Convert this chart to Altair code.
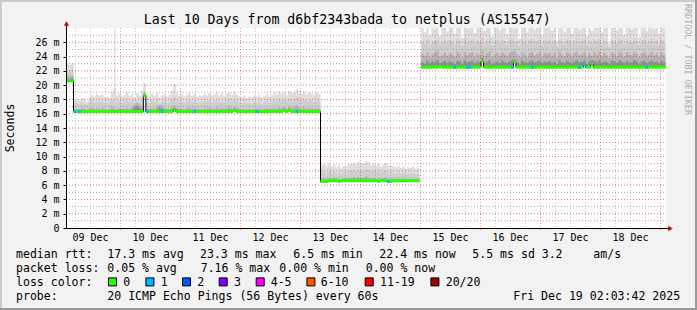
import altair as alt
import pandas as pd

MONO = "DejaVu Sans Mono"
PAD_L, PAD_T = 66, 28
W, H = 600, 200

# ------------------------------------------------------------------ data
# x = hours after 2025-12-09 00:00 ; y = round trip time in milliseconds
X_DOMAIN = [2.2, 242.2]
Y_DOMAIN = [0, 28]
Y_TICKS = [0, 2, 4, 6, 8, 10, 12, 14, 16, 18, 20, 22, 24, 26]
DAY_LABELS = ["09 Dec", "10 Dec", "11 Dec", "12 Dec", "13 Dec",
              "14 Dec", "15 Dec", "16 Dec", "17 Dec", "18 Dec"]
DAY_NOON_HOURS = [12, 36, 60, 84, 108, 132, 156, 180, 204, 228]
GRID_MINOR_MS = [1, 3, 5, 7, 9, 11, 13, 15, 17, 19, 21, 23, 25, 27]
GRID_MAJOR_MS = [2, 4, 6, 8, 10, 12, 14, 16, 18, 20, 22, 24, 26]
GRID_DAY_HOURS = [24, 48, 72, 96, 120, 144, 168, 192, 216, 240]
GRID_6H_HOURS = [6, 12, 18, 30, 36, 42, 54, 60, 66, 78, 84, 90, 102, 108, 114,
                 126, 132, 138, 150, 156, 162, 174, 180, 186, 198, 204, 210,
                 222, 228, 234]

# segment A : before the first route change
SPAN_A = (2.0, 5.2)
MED_A = [20.6, 20.6, 20.6]
S1_A = [23.0, 22.8, 23.1]
S2_A = [22.1, 21.9, 22.2]
S3_A = [21.3, 21.2, 21.3]
S4_A = [20.9, 20.8, 20.9]

# segment B
SPAN_B = (5.2, 104.0)
MED_B = [16.3, 16.3, 16.3, 16.3, 16.3, 16.3, 16.3, 16.3, 16.3, 16.3,
         16.3, 16.3, 16.3, 16.3, 16.3, 16.3, 16.3, 16.3, 16.3, 16.3,
         16.3, 16.3, 16.3, 16.3, 16.3, 16.3, 16.3, 16.3, 18.5, 16.3,
         16.3, 16.3, 16.3, 16.3, 16.3, 16.3, 16.3, 16.3, 16.3, 16.3,
         16.6, 16.3, 16.3, 16.3, 16.3, 16.3, 16.3, 16.3, 16.3, 16.3,
         16.3, 16.3, 16.3, 16.3, 16.3, 16.3, 16.3, 16.3, 16.3, 16.3,
         16.3, 16.3, 16.3, 16.3, 16.5, 16.3, 16.3, 16.3, 16.3, 16.3,
         16.3, 16.3, 16.3, 16.3, 16.3, 16.3, 16.3, 16.3, 16.3, 16.3,
         16.3, 16.3, 16.3, 16.3, 16.5, 16.3, 16.5, 16.3, 16.3, 16.3,
         16.3, 16.3, 16.3, 16.3, 16.3, 16.3, 16.3, 16.3, 16.3]
S1_B = [17.8, 18.1, 17.9, 18.2, 18.0, 17.7, 18.3, 18.6, 18.4, 18.8,
        18.5, 18.7, 18.3, 18.4, 18.2, 19.1, 19.6, 18.6, 18.9, 18.4,
        18.7, 19.0, 18.5, 18.8, 18.3, 18.9, 18.6, 19.2, 20.3, 18.7,
        18.4, 18.8, 18.5, 18.9, 18.3, 18.6, 18.8, 18.4, 18.7, 19.3,
        20.2, 18.9, 18.5, 18.8, 18.4, 18.7, 18.9, 18.5, 18.8, 18.4,
        18.6, 18.5, 18.8, 18.6, 18.9, 18.5, 18.7, 19.0, 18.6, 18.9,
        18.5, 18.8, 19.0, 18.6, 19.1, 18.7, 18.4, 18.3, 18.5, 18.2,
        18.4, 18.3, 18.6, 18.4, 18.7, 18.3, 18.5, 18.8, 18.4, 18.6,
        18.9, 18.7, 19.1, 18.8, 19.0, 18.6, 19.2, 18.9, 19.0, 19.5,
        19.2, 18.8, 19.1, 18.7, 19.0, 18.9, 18.6, 19.0, 18.8]
S2_B = [17.3, 17.5, 17.4, 17.6, 17.4, 17.3, 17.6, 17.8, 17.5, 17.7,
        17.6, 17.8, 17.5, 17.4, 17.6, 17.9, 18.2, 17.7, 17.8, 17.5,
        17.7, 17.9, 17.6, 17.8, 17.5, 17.9, 17.7, 18.0, 19.2, 17.6,
        17.5, 17.8, 17.6, 17.9, 17.4, 17.7, 17.8, 17.5, 17.7, 18.0,
        18.4, 17.8, 17.6, 17.7, 17.5, 17.8, 17.9, 17.6, 17.8, 17.5,
        17.6, 17.5, 17.8, 17.7, 17.9, 17.6, 17.7, 17.9, 17.6, 17.8,
        17.6, 17.8, 18.0, 17.7, 18.0, 17.8, 17.5, 17.4, 17.6, 17.4,
        17.5, 17.4, 17.7, 17.5, 17.8, 17.4, 17.6, 17.8, 17.5, 17.7,
        17.9, 17.8, 18.0, 17.8, 18.0, 17.7, 18.1, 17.9, 18.0, 18.3,
        18.1, 17.8, 18.0, 17.7, 17.9, 17.9, 17.6, 17.9, 17.8]
S3_B = [16.6, 16.7, 16.6, 16.8, 16.7, 16.6, 16.8, 16.8, 16.7, 16.8,
        16.7, 16.8, 16.7, 16.6, 16.7, 16.9, 17.1, 16.7, 16.8, 16.7,
        16.7, 16.8, 16.7, 16.9, 17.3, 17.5, 17.2, 16.9, 18.9, 16.7,
        16.7, 16.8, 16.7, 17.0, 17.2, 17.1, 16.8, 16.7, 16.7, 16.9,
        17.2, 16.8, 16.7, 16.7, 16.6, 16.8, 16.9, 16.7, 16.8, 16.7,
        16.7, 16.6, 16.8, 16.7, 16.9, 16.7, 16.7, 16.9, 16.7, 16.8,
        16.7, 16.8, 17.0, 16.7, 16.9, 16.8, 16.7, 16.6, 16.7, 16.6,
        16.7, 16.6, 16.7, 16.7, 16.8, 16.6, 16.7, 16.8, 16.7, 16.7,
        16.8, 16.7, 16.9, 16.8, 16.9, 16.7, 17.0, 16.8, 16.9, 17.1,
        16.9, 16.7, 16.9, 16.7, 16.8, 16.8, 16.7, 16.8, 16.7]
S4_B = [16.4, 16.5, 16.4, 16.5, 16.5, 16.4, 16.5, 16.5, 16.5, 16.5,
        16.5, 16.5, 16.5, 16.4, 16.5, 16.5, 16.6, 16.5, 16.5, 16.5,
        16.5, 16.5, 16.5, 16.6, 16.9, 17.1, 16.8, 16.6, 18.7, 16.5,
        16.5, 16.5, 16.5, 16.6, 16.8, 16.7, 16.5, 16.5, 16.5, 16.5,
        16.8, 16.5, 16.5, 16.5, 16.4, 16.5, 16.5, 16.5, 16.5, 16.5,
        16.5, 16.4, 16.5, 16.5, 16.5, 16.5, 16.5, 16.5, 16.5, 16.5,
        16.5, 16.5, 16.6, 16.5, 16.6, 16.5, 16.5, 16.4, 16.5, 16.4,
        16.5, 16.4, 16.5, 16.5, 16.5, 16.4, 16.5, 16.5, 16.5, 16.5,
        16.5, 16.5, 16.5, 16.5, 16.6, 16.5, 16.6, 16.5, 16.5, 16.6,
        16.5, 16.5, 16.5, 16.5, 16.5, 16.5, 16.5, 16.5, 16.5]

# segment C
SPAN_C = (104.0, 143.6)
MED_C = [6.5, 6.5, 6.5, 6.6, 6.6, 6.6, 6.6, 6.5, 6.6, 6.6,
         6.6, 6.6, 6.6, 6.6, 6.6, 6.6, 6.6, 6.6, 6.6, 6.6,
         6.6, 6.6, 6.6, 6.5, 6.6, 6.6, 6.6, 6.5, 6.5, 6.6,
         6.6, 6.6, 6.6, 6.6, 6.6, 6.6, 6.6, 6.6, 6.6, 6.6]
S1_C = [8.8, 9.0, 8.7, 9.1, 8.6, 8.9, 8.5, 8.8, 8.4, 8.7,
        8.6, 8.9, 9.0, 9.2, 8.9, 9.3, 9.1, 9.0, 9.4, 9.2,
        8.8, 9.1, 8.7, 9.0, 8.6, 8.9, 9.1, 8.7, 8.8, 8.6,
        8.5, 8.7, 8.4, 8.6, 8.3, 8.5, 8.4, 8.6, 8.3, 8.4]
S2_C = [7.8, 7.9, 7.7, 8.0, 7.7, 7.9, 7.6, 7.8, 7.6, 7.8,
        7.7, 7.9, 8.0, 8.1, 7.9, 8.2, 8.0, 7.9, 8.3, 8.1,
        7.8, 8.0, 7.7, 7.9, 7.7, 7.9, 8.0, 7.7, 7.8, 7.7,
        7.6, 7.8, 7.6, 7.7, 7.5, 7.6, 7.6, 7.7, 7.5, 7.6]
S3_C = [6.9, 7.0, 6.9, 7.0, 6.9, 7.0, 6.9, 6.9, 6.8, 7.0,
        6.9, 7.0, 7.0, 7.1, 7.0, 7.1, 7.0, 7.0, 7.2, 7.0,
        6.9, 7.0, 6.9, 7.0, 6.9, 7.0, 7.0, 6.9, 6.9, 6.9,
        6.9, 6.9, 6.8, 6.9, 6.8, 6.9, 6.9, 6.9, 6.8, 6.9]
S4_C = [6.6, 6.7, 6.6, 6.7, 6.7, 6.7, 6.7, 6.6, 6.7, 6.7,
        6.7, 6.7, 6.7, 6.8, 6.7, 6.8, 6.7, 6.7, 6.8, 6.7,
        6.7, 6.7, 6.7, 6.6, 6.7, 6.7, 6.7, 6.6, 6.6, 6.7,
        6.7, 6.7, 6.7, 6.7, 6.7, 6.7, 6.7, 6.7, 6.7, 6.7]

# segment D
SPAN_D = (144.3, 242.0)
MED_D = [22.5, 22.5, 22.5, 22.5, 22.5, 22.5, 22.5, 22.6, 22.5, 22.5,
         22.5, 22.5, 22.5, 22.5, 22.5, 22.5, 22.5, 22.5, 22.5, 22.5,
         22.5, 22.5, 22.5, 22.5, 23.3, 22.5, 22.5, 22.5, 22.5, 22.5,
         22.5, 22.5, 22.5, 22.5, 22.5, 22.5, 22.5, 23.2, 22.5, 22.5,
         22.5, 22.5, 22.5, 22.5, 22.5, 22.5, 22.5, 22.5, 22.5, 22.5,
         22.5, 22.5, 22.5, 22.5, 22.5, 22.5, 22.5, 22.5, 22.5, 22.5,
         22.5, 22.5, 22.5, 22.5, 22.5, 22.9, 22.5, 22.5, 22.9, 22.5,
         22.5, 22.5, 22.5, 22.5, 22.5, 22.5, 22.5, 22.5, 22.5, 22.5,
         22.5, 22.5, 22.5, 22.5, 22.5, 22.5, 22.5, 22.5, 22.5, 22.5,
         22.5, 22.5, 22.5, 22.5, 22.5, 22.5, 22.5, 22.5]
S1_D = [28.5, 27.4, 28.6, 27.0, 28.4, 27.8, 28.6, 26.9, 28.3, 28.5,
        27.5, 28.6, 28.2, 27.2, 28.5, 28.4, 26.6, 28.6, 27.9, 28.4,
        28.6, 27.3, 28.5, 28.0, 28.6, 27.6, 28.4, 28.6, 26.8, 28.3,
        28.5, 27.7, 28.6, 28.4, 27.1, 28.5, 28.6, 27.9, 28.4, 26.5,
        28.6, 28.3, 27.4, 28.5, 28.6, 27.8, 28.2, 28.6, 27.0, 28.5,
        28.4, 28.6, 27.6, 28.5, 26.2, 28.6, 28.3, 27.5, 28.6, 28.4,
        27.2, 28.5, 28.6, 27.8, 28.4, 28.6, 26.9, 28.5, 27.6, 28.6,
        28.3, 28.6, 27.4, 28.5, 28.2, 25.8, 28.6, 28.4, 27.7, 28.6,
        28.5, 27.1, 28.6, 28.3, 27.8, 28.6, 28.4, 26.7, 28.5, 28.6,
        27.5, 28.4, 28.6, 27.9, 28.5, 27.2, 28.6, 28.3]
S2_D = [26.2, 25.8, 26.4, 25.6, 26.1, 26.3, 26.5, 25.7, 26.0, 26.4,
        25.9, 26.3, 26.1, 25.7, 26.4, 26.2, 25.5, 26.5, 26.0, 26.3,
        26.4, 25.8, 26.2, 26.0, 26.6, 25.9, 26.3, 26.5, 25.6, 26.1,
        26.3, 25.9, 26.4, 26.2, 25.7, 26.3, 26.5, 26.0, 26.2, 25.5,
        26.4, 26.1, 25.8, 26.3, 26.5, 26.0, 26.2, 26.4, 25.7, 26.3,
        26.2, 26.4, 25.9, 26.3, 25.4, 26.5, 26.1, 25.8, 26.4, 26.2,
        25.8, 26.3, 26.5, 26.0, 26.2, 26.4, 25.6, 26.3, 25.9, 26.4,
        26.1, 26.5, 25.8, 26.3, 26.0, 25.3, 26.4, 26.2, 25.9, 26.5,
        26.3, 25.7, 26.4, 26.1, 26.0, 26.5, 26.2, 25.6, 26.3, 26.4,
        25.9, 26.2, 26.5, 26.0, 26.3, 25.7, 26.4, 26.1]
S3_D = [24.4, 24.1, 24.6, 23.9, 24.3, 24.5, 24.8, 24.0, 24.2, 24.6,
        24.1, 24.5, 24.3, 24.0, 24.7, 24.4, 23.9, 24.6, 24.2, 24.5,
        24.6, 24.0, 24.4, 24.2, 24.9, 24.1, 24.5, 24.7, 23.9, 24.3,
        24.5, 24.1, 24.6, 24.4, 24.0, 24.5, 24.7, 24.8, 24.4, 23.9,
        24.6, 24.3, 24.0, 24.5, 24.7, 24.2, 24.4, 24.6, 24.0, 24.5,
        24.4, 24.6, 24.1, 24.5, 23.8, 24.7, 24.3, 24.0, 24.6, 24.4,
        24.0, 24.5, 24.7, 24.2, 24.4, 24.6, 23.9, 24.5, 24.1, 24.6,
        24.3, 24.7, 24.0, 24.5, 24.2, 23.8, 24.6, 24.4, 24.1, 24.7,
        24.5, 24.0, 24.6, 24.3, 24.2, 24.7, 24.4, 23.9, 24.5, 24.6,
        24.1, 24.4, 24.7, 24.2, 24.5, 24.0, 24.6, 24.3]
S4_D = [23.2, 23.0, 23.4, 23.1, 23.3, 23.2, 23.5, 23.1, 23.2, 23.4,
        23.1, 23.3, 23.2, 23.0, 23.4, 23.3, 23.0, 23.5, 23.2, 23.3,
        23.4, 23.1, 23.3, 23.2, 23.8, 23.1, 23.3, 23.5, 23.0, 23.2,
        23.3, 23.1, 23.4, 23.2, 23.1, 23.3, 23.5, 23.6, 23.2, 23.0,
        23.4, 23.2, 23.1, 23.3, 23.5, 23.2, 23.3, 23.4, 23.1, 23.3,
        23.2, 23.4, 23.1, 23.3, 23.0, 23.5, 23.2, 23.1, 23.4, 23.2,
        23.1, 23.3, 23.5, 23.2, 23.3, 23.4, 23.0, 23.3, 23.5, 23.4,
        23.2, 23.5, 23.1, 23.3, 23.2, 23.0, 23.4, 23.3, 23.1, 23.5,
        23.3, 23.1, 23.4, 23.2, 23.2, 23.5, 23.3, 23.0, 23.3, 23.4,
        23.1, 23.3, 23.5, 23.2, 23.3, 23.1, 23.4, 23.2]

# loss events (hour, number of lost pings out of 20)
LOSS_EVENT_HOURS = [5.7, 7.6, 34.4, 40.3, 53.7, 78.4, 94.5, 131.1, 158.0,
                    162.4, 164.0, 180.8, 188.8, 208.0, 209.2, 234.7]
LOSS_EVENT_CLASS = ["1", "1", "1", "1", "1", "1", "1", "1", "1",
                    "1", "1", "1", "1", "1", "1", "1"]
# single-ping outliers
SPIKE_HOURS = [21.8]
SPIKE_TOPS = [28.5]

LOSS_LABELS = ["0", "1", "2", "3", "4-5", "6-10", "11-19", "20/20"]
LOSS_COLORS = ["#26ff00", "#00b8ff", "#0059ff", "#7e00ff", "#ff00ff",
               "#ff5500", "#ff0000", "#a00000"]

TITLE = "Last 10 Days from d6bf2343bada to netplus (AS15547)"
RTT_STATS = ["median rtt:", "17.3 ms avg", "23.3 ms max", "6.5 ms min",
             "22.4 ms now", "5.5 ms sd", "3.2", "am/s"]
LOSS_STATS = ["packet loss:", "0.05 % avg", "7.16 % max", "0.00 % min", "0.00 % now"]
PROBE_INFO = ["probe:", "20 ICMP Echo Pings (56 Bytes) every 60s",
              "Fri Dec 19 02:03:42 2025"]
LOSS_COLOR_HEAD = "loss color:"
Y_TITLE = "Seconds"
WATERMARK = "RRDTOOL / TOBI OETIKER"

# ------------------------------------------------------------------ layout (absolute px)
RTT_X = [16, 107.3, 200, 293.3, 379.3, 472.3, 541.7, 593.3]
LOSSSTAT_X = [16, 107.3, 200.7, 279.3, 365.7]
PROBE_X = [16, 107.3, 513.3]
SWATCH_X = [108.3, 145.7, 182.3, 219, 256, 306.7, 365, 430.7]
SWATCH_LABEL_X = [123.3, 160.7, 197.3, 234, 270.7, 320.7, 380, 445.7]
ROW_Y = [258.3, 272.1, 285.9, 299.7]

SEGMENTS = [
    ("A", SPAN_A, MED_A, S1_A, S2_A, S3_A, S4_A, "g1"),
    ("B", SPAN_B, MED_B, S1_B, S2_B, S3_B, S4_B, "g1"),
    ("C", SPAN_C, MED_C, S1_C, S2_C, S3_C, S4_C, "g1"),
    ("D", SPAN_D, MED_D, S1_D, S2_D, S3_D, S4_D, "g2"),
]

area_rows, line_rows = [], []
for name, (t0, t1), med, s1, s2, s3, s4, grp in SEGMENTS:
    n = len(med)
    step = (t1 - t0) / n
    for i in range(n):
        r = dict(seg=name, grp=grp, h=t0 + i * step, med=med[i],
                 s1=s1[i], s2=s2[i], s3=s3[i], s4=s4[i])
        area_rows.append(r)
        line_rows.append(r)
    last = dict(seg=name, grp=grp, h=t1, med=med[-1], s1=s1[-1],
                s2=s2[-1], s3=s3[-1], s4=s4[-1])
    area_rows.append(last)
    if name in ("C", "D"):
        line_rows.append(last)
area_df = pd.DataFrame(area_rows)
line_df = pd.DataFrame(line_rows)


def lookup(h):
    for name, (t0, t1), med, *_rest in SEGMENTS:
        if t0 <= h < t1:
            step = (t1 - t0) / len(med)
            i = int((h - t0) / step)
            return t0 + i * step, t0 + (i + 1) * step, med[i]
    return None


loss_rows = []
for h, c in zip(LOSS_EVENT_HOURS, LOSS_EVENT_CLASS):
    x0, x1, m = lookup(h)
    loss_rows.append(dict(x0=x0, x1=x1, med=m, cls=c))
loss_df = pd.DataFrame(loss_rows)

spike_rows = []
for h, top in zip(SPIKE_HOURS, SPIKE_TOPS):
    _, _, m = lookup(h)
    spike_rows.append(dict(h=h, top=top, base=m))
spike_df = pd.DataFrame(spike_rows)

# ------------------------------------------------------------------ chart
XS = alt.Scale(domain=X_DOMAIN, nice=False, zero=False)
YS = alt.Scale(domain=Y_DOMAIN, nice=False, zero=False)
ONE = pd.DataFrame({"k": [0]})

Y_AXIS = alt.Axis(values=Y_TICKS,
                  labelExpr="datum.value == 0 ? '0' : datum.value + ' m'",
                  grid=False, domain=False, ticks=True, tickColor="#000000",
                  tickSize=3, labelFont=MONO, labelFontSize=10,
                  labelColor="#000000", labelPadding=4, title=None)


def X(field):
    return alt.X(field, type="quantitative", scale=XS, axis=None)


def Y(field):
    return alt.Y(field, type="quantitative", scale=YS, axis=Y_AXIS)


layers = []
SMOKE_COLORS = ["#dedede", "#cecece", "#b3b3b3", "#8e8e8e"]
for k, col in enumerate(SMOKE_COLORS):
    layers.append(
        alt.Chart(area_df).mark_area(interpolate="step-after", color=col, clip=True)
        .encode(x=X("h"), y=Y(f"s{k+1}"), y2=alt.Y2("med:Q"), detail="seg:N")
    )

layers.append(
    alt.Chart(spike_df).mark_rule(color="#d8d8d8", strokeWidth=1, clip=True)
    .encode(x=X("h"), y=Y("top"), y2="base:Q")
)

# grid (drawn above the smoke, as rrdtool does)
GRAY_H = dict(color="#8a8a8a", opacity=0.75, strokeDash=[1, 2], strokeWidth=1)
RED_H = dict(color="#e83030", opacity=0.7, strokeDash=[1, 2], strokeWidth=1)
GRAY_V = dict(color="#8a8a8a", opacity=0.5, strokeDash=[1, 2], strokeWidth=1)
RED_V = dict(color="#e83030", opacity=0.5, strokeDash=[1, 2], strokeWidth=1)
layers.append(
    alt.Chart(pd.DataFrame({"v": GRID_MINOR_MS})).mark_rule(**GRAY_H)
    .encode(y=Y("v"), x=alt.value(0), x2=alt.value(W))
)
layers.append(
    alt.Chart(pd.DataFrame({"h": GRID_6H_HOURS})).mark_rule(**GRAY_V)
    .encode(x=X("h"), y=alt.value(0), y2=alt.value(H))
)
layers.append(
    alt.Chart(pd.DataFrame({"v": GRID_MAJOR_MS})).mark_rule(**RED_H)
    .encode(y=Y("v"), x=alt.value(0), x2=alt.value(W))
)
layers.append(
    alt.Chart(pd.DataFrame({"h": GRID_DAY_HOURS})).mark_rule(**RED_V)
    .encode(x=X("h"), y=alt.value(0), y2=alt.value(H + 3))
)

# median: thin dark line then loss-coloured band
layers.append(
    alt.Chart(line_df).mark_line(interpolate="step-after", color="#000000",
                                 strokeWidth=1, clip=True)
    .encode(x=X("h"), y=Y("med"), detail="grp:N")
)
layers.append(
    alt.Chart(area_df).transform_calculate(hi="datum.med + 0.21", lo="datum.med - 0.21")
    .mark_area(interpolate="step-after", color=LOSS_COLORS[0], clip=True)
    .encode(x=X("h"), y=Y("hi"), y2="lo:Q", detail="seg:N")
)
layers.append(
    alt.Chart(loss_df).transform_calculate(hi="datum.med + 0.21", lo="datum.med - 0.21")
    .mark_rect(clip=True)
    .encode(x=X("x0"), x2="x1:Q", y=Y("hi"), y2="lo:Q",
            color=alt.Color("cls:N", scale=alt.Scale(domain=LOSS_LABELS, range=LOSS_COLORS),
                            legend=None))
)

# day labels on the time axis
layers.append(
    alt.Chart(pd.DataFrame({"h": DAY_NOON_HOURS, "t": DAY_LABELS}))
    .mark_text(font=MONO, fontSize=10, color="#000000", align="center", baseline="alphabetic")
    .encode(x=X("h"), y=alt.value(240.6 - PAD_T), text="t:N")
)

# axes lines and arrows
ARROW = "#b01010"
layers.append(alt.Chart(ONE).mark_rule(color="#000000", strokeWidth=1)
              .encode(x=alt.value(0.5), y=alt.value(H + 0.5), y2=alt.value(-3)))
layers.append(alt.Chart(ONE).mark_rule(color="#000000", strokeWidth=1)
              .encode(x=alt.value(0), x2=alt.value(W + 3), y=alt.value(H + 0.5)))
layers.append(alt.Chart(ONE).mark_point(shape="triangle-up", filled=True, color=ARROW,
                                        size=28, opacity=1)
              .encode(x=alt.value(0.5), y=alt.value(-4.5)))
layers.append(alt.Chart(ONE).mark_point(shape="triangle-right", filled=True, color=ARROW,
                                        size=28, opacity=1)
              .encode(x=alt.value(W + 4.5), y=alt.value(H + 0.5)))


# frame (3D border)
def frame(x1, x2, y1, y2, col):
    return (alt.Chart(ONE).mark_rule(color=col, strokeWidth=2)
            .encode(x=alt.value(x1 - PAD_L), x2=alt.value(x2 - PAD_L),
                    y=alt.value(y1 - PAD_T), y2=alt.value(y2 - PAD_T)))


layers.append(frame(0, 697, 1, 1, "#cbcbcb"))
layers.append(frame(1, 1, 0, 310, "#cbcbcb"))
layers.append(frame(696, 696, 0, 310, "#999999"))
layers.append(frame(0, 697, 309, 309, "#999999"))


def label(s, xa, ya, size=11.55, align="left", angle=0, color="#000000", baseline="alphabetic"):
    return (alt.Chart(ONE).mark_text(font=MONO, fontSize=size, align=align, angle=angle,
                                     color=color, baseline=baseline)
            .encode(x=alt.value(xa - PAD_L), y=alt.value(ya - PAD_T), text=alt.value(s)))


layers.append(label(TITLE, 347.2, 24, size=13.25, align="center"))
layers.append(label(Y_TITLE, 11, 128, size=11.55, align="center", angle=270, baseline="middle"))
layers.append(label(WATERMARK, 687.5, 4, size=8.4, angle=90, color="#ababab", baseline="middle"))

for s, xa in zip(RTT_STATS, RTT_X):
    layers.append(label(s, xa, ROW_Y[0]))
for s, xa in zip(LOSS_STATS, LOSSSTAT_X):
    layers.append(label(s, xa, ROW_Y[1]))
layers.append(label(LOSS_COLOR_HEAD, 16, ROW_Y[2]))
for s, xa in zip(LOSS_LABELS, SWATCH_LABEL_X):
    layers.append(label(s, xa, ROW_Y[2]))
for s, xa in zip(PROBE_INFO, PROBE_X):
    layers.append(label(s, xa, ROW_Y[3]))

for cls, col, xa in zip(LOSS_LABELS, LOSS_COLORS, SWATCH_X):
    layers.append(
        alt.Chart(ONE).mark_square(size=64, filled=True, color=col, stroke="#000000",
                                   strokeWidth=1, opacity=1)
        .encode(x=alt.value(xa + 4.2 - PAD_L), y=alt.value(281.9 - PAD_T))
    )

chart = (
    alt.layer(*layers)
    .properties(width=W, height=H,
                padding={"left": PAD_L, "top": PAD_T, "right": 697 - PAD_L - W,
                         "bottom": 310 - PAD_T - H},
                autosize=alt.AutoSizeParams(type="none"),
                background="#f2f2f2")
    .configure_view(fill="#ffffff", strokeWidth=0)
)

chart.save("out.html", embed_options={"renderer": "svg", "actions": False})
